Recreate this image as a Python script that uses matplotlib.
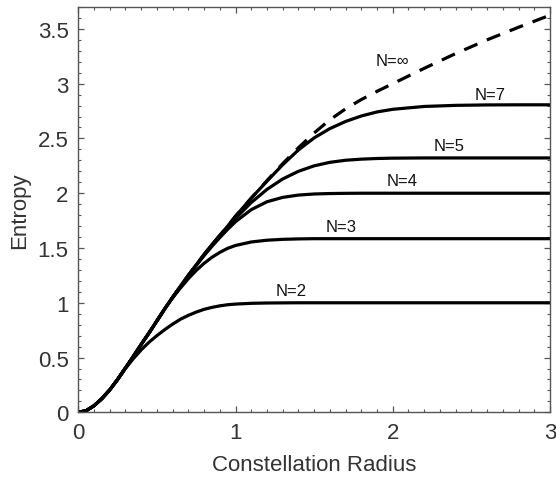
import matplotlib
matplotlib.use("Agg")
import matplotlib.pyplot as plt
from matplotlib.ticker import MultipleLocator

plt.rcParams['font.family'] = ['Liberation Sans', 'DejaVu Sans']

x = [0, 0.05, 0.1, 0.15, 0.2, 0.25, 0.3, 0.35, 0.4, 0.45, 0.5, 0.55, 0.6, 0.65,
     0.7, 0.75, 0.8, 0.85, 0.9, 0.95, 1.0, 1.1, 1.2, 1.3, 1.4, 1.5, 1.6, 1.7,
     1.8, 1.9, 2.0, 2.2, 2.4, 2.6, 2.8, 3.0]

h_inf = [0, 0.015, 0.06, 0.125, 0.205, 0.30, 0.405, 0.51, 0.62, 0.725, 0.835, 0.945,
         1.05, 1.15, 1.25, 1.345, 1.44, 1.53, 1.615, 1.70, 1.79, 1.955, 2.115, 2.27,
         2.415, 2.55, 2.67, 2.77, 2.855, 2.93, 3.0, 3.14, 3.275, 3.40, 3.515, 3.625]

h7 = [0, 0.015, 0.06, 0.125, 0.205, 0.30, 0.405, 0.51, 0.62, 0.725, 0.835, 0.945,
      1.05, 1.15, 1.25, 1.345, 1.44, 1.53, 1.615, 1.70, 1.79, 1.955, 2.11, 2.26,
      2.395, 2.505, 2.59, 2.655, 2.705, 2.742, 2.766, 2.792, 2.802, 2.806, 2.807, 2.807]

h5 = [0, 0.015, 0.06, 0.125, 0.205, 0.30, 0.405, 0.51, 0.62, 0.725, 0.835, 0.945,
      1.05, 1.15, 1.25, 1.345, 1.44, 1.53, 1.61, 1.69, 1.77, 1.915, 2.035, 2.13,
      2.20, 2.25, 2.282, 2.301, 2.311, 2.317, 2.32, 2.322, 2.322, 2.322, 2.322, 2.322]

h4 = [0, 0.015, 0.06, 0.125, 0.205, 0.30, 0.405, 0.51, 0.62, 0.725, 0.835, 0.945,
      1.05, 1.15, 1.25, 1.34, 1.43, 1.515, 1.595, 1.67, 1.74, 1.85, 1.922, 1.962,
      1.983, 1.993, 1.997, 1.999, 2.0, 2.0, 2.0, 2.0, 2.0, 2.0, 2.0, 2.0]

h3 = [0, 0.015, 0.06, 0.125, 0.205, 0.30, 0.405, 0.51, 0.62, 0.725, 0.835, 0.945,
      1.045, 1.135, 1.22, 1.295, 1.36, 1.415, 1.46, 1.497, 1.523, 1.555, 1.571, 1.579,
      1.583, 1.585, 1.585, 1.585, 1.585, 1.585, 1.585, 1.585, 1.585, 1.585, 1.585, 1.585]

h2 = [0, 0.015, 0.06, 0.125, 0.205, 0.30, 0.40, 0.49, 0.57, 0.64, 0.70, 0.755,
      0.805, 0.85, 0.885, 0.915, 0.94, 0.958, 0.972, 0.982, 0.988, 0.995, 0.998, 0.999,
      1.0, 1.0, 1.0, 1.0, 1.0, 1.0, 1.0, 1.0, 1.0, 1.0, 1.0, 1.0]

labels = ["N=2", "N=3", "N=4", "N=5", "N=7", "N=\u221e"]
label_x = [1.355, 1.67, 2.057, 2.36, 2.62, 2.0]
label_y = [1.11, 1.70, 2.115, 2.44, 2.90, 3.21]

fig = plt.figure(figsize=(5.56, 4.81), dpi=100)
ax = fig.add_axes([0.1408, 0.1407, 0.9892 - 0.1408, 0.9834 - 0.1407])

lw = 2.3
for h in [h2, h3, h4, h5, h7]:
    ax.plot(x, h, color='black', lw=lw, solid_capstyle='butt', solid_joinstyle='round')
ax.plot(x, h_inf, color='black', lw=lw, dashes=(4.5, 3.2))

for t, lx, ly in zip(labels, label_x, label_y):
    ax.text(lx, ly, t, fontsize=12, ha='center', va='center', color='#111111')

ax.set_xlim(0, 3)
ax.set_ylim(0, 3.7)
ax.xaxis.set_minor_locator(MultipleLocator(0.1))
ax.yaxis.set_minor_locator(MultipleLocator(0.1))
ax.set_xticks([0, 1, 2, 3])
ax.set_xticklabels(["0", "1", "2", "3"])
ax.set_yticks([0, 0.5, 1, 1.5, 2, 2.5, 3, 3.5])
ax.set_yticklabels(["0", "0.5", "1", "1.5", "2", "2.5", "3", "3.5"])

spine_c = '#555555'
for s in ax.spines.values():
    s.set_color(spine_c)
    s.set_linewidth(1.0)
ax.tick_params(which='both', direction='in', top=True, right=True, color=spine_c,
               labelcolor='#333333', labelsize=16)
ax.tick_params(which='major', length=4.5, width=0.9, pad=7)
ax.tick_params(which='minor', length=2.5, width=0.8)

ax.set_xlabel("Constellation Radius", fontsize=16, color='#333333', labelpad=8)
ax.set_ylabel("Entropy", fontsize=16, color='#333333', labelpad=5)

fig.savefig("out.png", dpi=100)
